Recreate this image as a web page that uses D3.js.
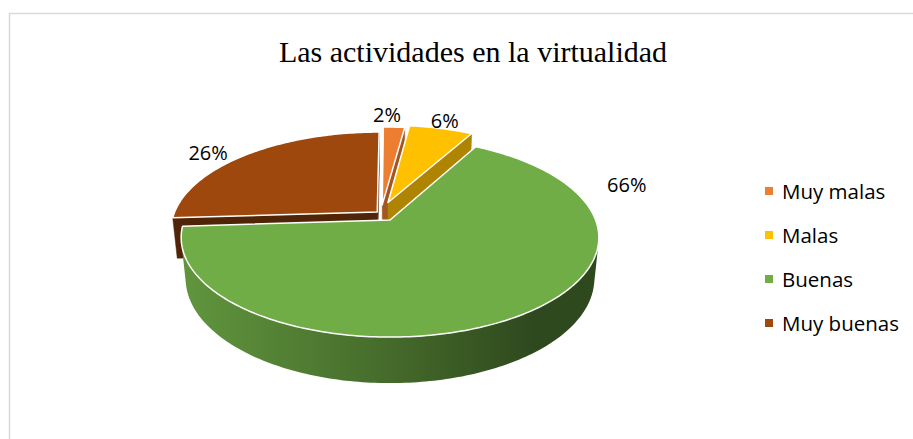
<!DOCTYPE html>
<html>
<head>
<meta charset="utf-8">
<script src="https://cdn.jsdelivr.net/npm/d3@7"></script>
<style>
  body { margin: 0; background: #fff; }
  svg { display: block; }
</style>
</head>
<body>
<div id="chart"></div>
<script>
"use strict"

// data
const categories = ["Muy malas", "Malas", "Buenas", "Muy buenas"]
const percents = [2, 6, 66, 26]
const labels = ["2%", "6%", "66%", "26%"]
const colors = ["#ED7D31", "#FFC000", "#70AD47", "#9E480E"]
const title = "Las actividades en la virtualidad"

// how far each slice is pulled out, in radius units (x, toward viewer)
const explode = [[-0.039, -0.161], [-0.01, -0.187], [0, 0], [-0.063, -0.085]]
// where the labels sit: angle (deg) and radius
const labelSpots = [[1, 1.2], [17.3, 1.13], [72.5, 1.29], [306.8, 1.18]]

const width = 913, height = 439

let svg = d3.select("#chart")
    .append("svg")
    .attr("width", width)
    .attr("height", height)

let frame = svg.append("rect")
    .attr("x", 9.5)
    .attr("y", 13.5)
    .attr("width", 960)
    .attr("height", 480)
    .attr("fill", "none")
    .attr("stroke", "#d9d9d9")
    .attr("stroke-width", 1.5)

svg.append("text")
    .attr("x", 473)
    .attr("y", 62)
    .attr("text-anchor", "middle")
    .attr("font-family", "'Liberation Serif', 'Times New Roman', serif")
    .attr("font-size", 30)
    .attr("fill", "#000")
    .text(title)

/* simple perspective camera looking down on a unit disc */
const cam = { cx: 390, cy: 220, f: 1032, D: 5.02, elev: 28 * Math.PI / 180, depth: 0.228 }

function project(X, Z, Y) {
    let s = Math.sin(cam.elev), c = Math.cos(cam.elev)
    let dist = cam.D - (Y * s + Z * c)
    let up = Y * c - Z * s
    return [cam.cx + cam.f * X / dist, cam.cy - cam.f * up / dist]
}

function rimPoint(i, a, r, Y) {
    return project(r * Math.sin(a) + explode[i][0], -r * Math.cos(a) + explode[i][1], Y)
}

function area(pts) {
    let s = 0
    for (let k = 0; k < pts.length; k++) {
        let p = pts[k], q = pts[(k + 1) % pts.length]
        s += p[0] * q[1] - q[0] * p[1]
    }
    return s / 2
}

let line = d3.line()
let pie = d3.pie().sort(null).value(d => d)
let arcs = pie(percents)

let defs = svg.append("defs")
colors.forEach((col, i) => {
    let g = defs.append("linearGradient")
        .attr("id", "side" + i)
        .attr("gradientUnits", "userSpaceOnUse")
        .attr("x1", cam.cx - 205).attr("x2", cam.cx + 205)
        .attr("y1", 0).attr("y2", 0)
    let base = d3.rgb(col)
    let tone = k => d3.rgb(base.r * k, base.g * k, base.b * k).formatHex()
    g.append("stop").attr("offset", 0).attr("stop-color", tone(0.86))
    g.append("stop").attr("offset", 0.45).attr("stop-color", tone(0.64))
    g.append("stop").attr("offset", 0.85).attr("stop-color", tone(0.42))
    g.append("stop").attr("offset", 1).attr("stop-color", tone(0.42))
})

// back slices first
let order = arcs.map((d, i) => i).sort((p, q) => {
    let zp = -Math.cos((arcs[p].startAngle + arcs[p].endAngle) / 2) + explode[p][1]
    let zq = -Math.cos((arcs[q].startAngle + arcs[q].endAngle) / 2) + explode[q][1]
    return zp - zq
})

let sliceLayer = svg.append("g")

order.forEach(i => {
    let d = arcs[i]
    let h = -cam.depth
    let n = Math.max(2, Math.ceil((d.endAngle - d.startAngle) / (Math.PI / 180)))
    let angles = d3.range(n + 1).map(k => d.startAngle + (d.endAngle - d.startAngle) * k / n)
    let topRim = angles.map(a => rimPoint(i, a, 1, 0))
    let botRim = angles.map(a => rimPoint(i, a, 1, h))
    let apexTop = project(explode[i][0], explode[i][1], 0)
    let apexBot = project(explode[i][0], explode[i][1], h)
    let g = sliceLayer.append("g")
    let wallColor = d3.color(colors[i]).darker(i === 3 ? 1.9 : 1.05)

    // cut faces
    let startWall = [apexTop, topRim[0], botRim[0], apexBot]
    let endWall = [topRim[n], apexTop, apexBot, botRim[n]]
    ;[startWall, endWall].forEach(w => {
        if (area(w) < 0) {
            g.append("path")
                .attr("d", line(w) + "Z")
                .attr("fill", wallColor)
                .attr("stroke", wallColor)
                .attr("stroke-width", 0.5)
        }
    })

    // outer side, only the part facing us
    let runs = [], cur = null
    for (let k = 0; k < n; k++) {
        let quad = [topRim[k], topRim[k + 1], botRim[k + 1], botRim[k]]
        if (area(quad) < 0) {
            if (!cur) { cur = [k, k + 1]; runs.push(cur) } else cur[1] = k + 1
        } else cur = null
    }
    runs.forEach(([s, e]) => {
        let pts = topRim.slice(s, e + 1).concat(botRim.slice(s, e + 1).reverse())
        g.append("path")
            .attr("d", line(pts) + "Z")
            .attr("fill", "url(#side" + i + ")")
    })

    // top face
    g.append("path")
        .attr("d", line([apexTop].concat(topRim)) + "Z")
        .attr("fill", colors[i])
        .attr("stroke", "#fff")
        .attr("stroke-width", 1.5)
        .attr("stroke-linejoin", "round")
})

// data labels
svg.append("g").selectAll("text")
    .data(arcs)
    .join("text")
    .attr("x", (d, i) => rimPoint(i, labelSpots[i][0] * Math.PI / 180, labelSpots[i][1], 0)[0])
    .attr("y", (d, i) => rimPoint(i, labelSpots[i][0] * Math.PI / 180, labelSpots[i][1], 0)[1])
    .attr("text-anchor", "middle")
    .attr("dominant-baseline", "central")
    .attr("font-family", "'Open Sans', sans-serif")
    .attr("font-size", 20)
    .attr("fill", "#000")
    .text((d, i) => labels[i])

// legend
let legendY = d3.scalePoint().domain(categories).range([191, 323])
let legend = svg.append("g").selectAll("g")
    .data(categories)
    .join("g")
    .attr("transform", d => "translate(765," + legendY(d) + ")")

legend.append("rect")
    .attr("x", 0).attr("y", -4)
    .attr("width", 8).attr("height", 8)
    .attr("fill", (d, i) => colors[i])

legend.append("text")
    .attr("x", 17)
    .attr("y", 0)
    .attr("dominant-baseline", "central")
    .attr("font-family", "'Open Sans', sans-serif")
    .attr("font-size", 20.5)
    .attr("fill", "#000")
    .text(d => d)
</script>
</body>
</html>
